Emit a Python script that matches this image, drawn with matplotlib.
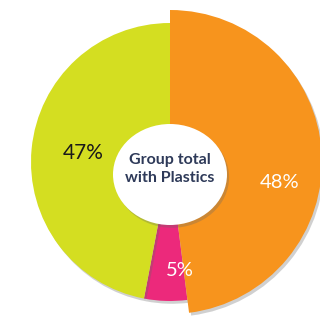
import matplotlib
matplotlib.use("Agg")
import matplotlib.pyplot as plt
from matplotlib.patches import Ellipse
import matplotlib.patheffects as pe

categories = ["Orange segment", "Pink segment", "Green segment"]
values = [48, 5, 47]
labels = ["48%", "5%", "47%"]
colors = ["#F7941D", "#EC297B", "#D4DE21"]
label_colors = ["white", "white", "#1a1a1a"]
center_text = "Group total\nwith Plastics"

W, H = 320, 322
fig = plt.figure(figsize=(W / 100, H / 100), dpi=100)
ax = fig.add_axes([0, 0, 1, 1])

cx, cy = 170, H - 162
wedges, _ = ax.pie(values, colors=colors, startangle=90, counterclock=False,
                   radius=139, center=(cx, cy), frame=True,
                   wedgeprops=dict(linewidth=0))
ax.set_xlim(0, W)
ax.set_ylim(0, H)
ax.set_aspect("equal")
ax.axis("off")
wedges[0].set_radius(152)
wedges[0].set_zorder(3)
shadow = [pe.SimplePatchShadow(offset=(1.5, -2), shadow_rgbFace="#666666", alpha=0.3), pe.Normal()]
for w in wedges:
    w.set_path_effects(shadow)

circ = Ellipse((cx, H - 174.5), 114, 101, facecolor="white", edgecolor="none", zorder=5)
circ.set_path_effects(shadow)
ax.add_patch(circ)

label_pos = [(280, H - 182), (180, H - 270), (83, H - 153)]
sizes = [14.5, 14.5, 15]
for (x, y), t, c, s in zip(label_pos, labels, label_colors, sizes):
    ax.text(x, y, t, ha="center", va="center", color=c, fontsize=s,
            family="Lato", zorder=6)

ax.text(cx, H - 169, center_text, ha="center", va="center", color="#2E3A59",
        fontsize=11.5, family="Lato", fontweight="bold", linespacing=1.45, zorder=6)

fig.savefig("out.png", dpi=100)
